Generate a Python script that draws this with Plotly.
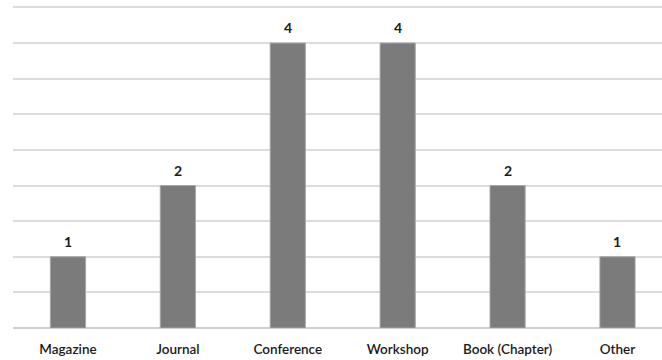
import plotly.graph_objects as go

# Publication counts by venue type
categories = ["Magazine", "Journal", "Conference", "Workshop", "Book (Chapter)", "Other"]
counts = [1, 2, 4, 4, 2, 1]

fig = go.Figure(
    go.Bar(
        x=categories,
        y=counts,
        width=0.32,
        marker=dict(color="#7b7b7b", line=dict(color="#a6a6a6", width=1)),
        hoverinfo="x+y",
    )
)

# Value labels above each bar
for cat, val in zip(categories, counts):
    fig.add_annotation(
        x=cat, y=val, text=str(val), showarrow=False,
        yanchor="bottom", yshift=5,
        font=dict(family="Lato", size=14, color="#1a1a1a", weight="bold"),
    )

fig.update_layout(
    width=662, height=360,
    margin=dict(l=13, r=0, t=6, b=32),
    paper_bgcolor="white", plot_bgcolor="white",
    showlegend=False,
)
fig.update_xaxes(
    type="category",
    range=[-0.5, 5.405],
    showgrid=False, showline=False, zeroline=False,
    ticks="", ticklabelstandoff=11,
    tickfont=dict(family="Lato", size=13.5, color="#1a1a1a", weight=600),
)
fig.update_yaxes(
    range=[0, 4.52],
    tickvals=[0, 0.5, 1, 1.5, 2, 2.5, 3, 3.5, 4, 4.5],
    showticklabels=False,
    showgrid=True, gridcolor="#dcdcdc", gridwidth=1.5,
    zeroline=True, zerolinecolor="#d0d0d0", zerolinewidth=1.5,
    showline=False,
)

fig.write_html("out.html")
